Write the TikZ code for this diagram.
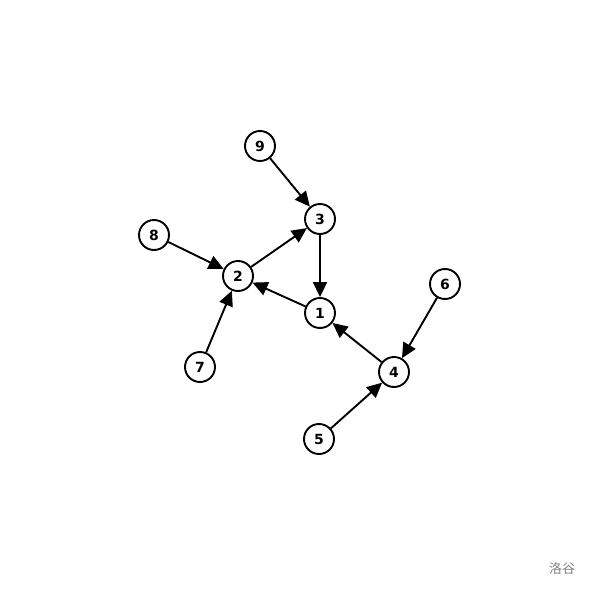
\documentclass[tikz,border=0pt]{standalone}
\usepackage{fontspec}
\setsansfont{DejaVu Sans}
\newfontfamily\cjk{Noto Sans CJK SC}
\usetikzlibrary{arrows.meta}

\begin{document}
\begin{tikzpicture}[x=1pt,y=-1pt,
  vertex/.style={draw, circle, line width=1.9pt, minimum size=30pt, inner sep=0pt,
    font=\sffamily\bfseries\fontsize{14}{14}\selectfont},
  edge/.style={line width=1.9pt, -{Triangle[length=15pt,width=14pt]}}]
\useasboundingbox (0,0) rectangle (589,589);

\foreach \v/\x/\y in {1/320/313, 2/238/276, 3/320/219, 4/394/372, 5/319/439,
  6/445/284, 7/200/367, 8/154/235, 9/260/146}
{
  \node[vertex] (\v) at (\x,\y) {\v};
}

\foreach \a/\b in {9/3, 3/1, 2/3, 1/2, 8/2, 7/2, 4/1, 6/4, 5/4}
{
  \draw[edge] (\a) -- (\b);
}

\node[text=black!50, font=\cjk\fontsize{13}{13}\selectfont] (mark) at (562,569) {洛谷};
\end{tikzpicture}
\end{document}
